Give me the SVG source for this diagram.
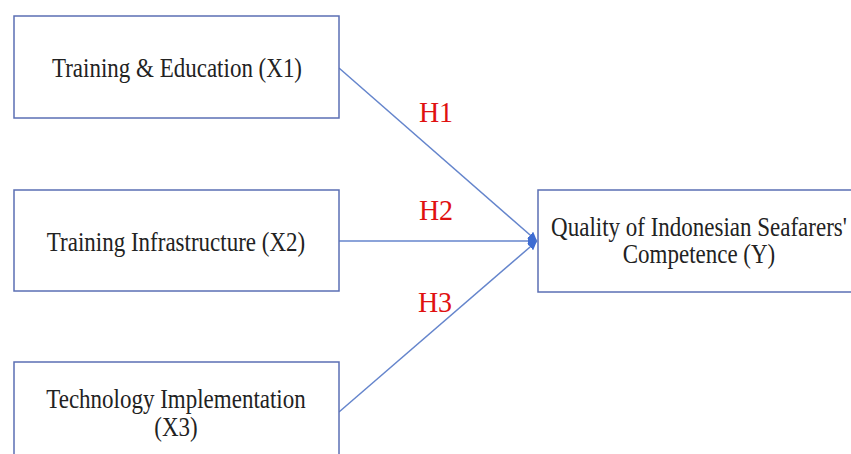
<svg xmlns="http://www.w3.org/2000/svg" width="851" height="454" viewBox="0 0 851 454">
<style>
.box{fill:#fff;stroke:#5B6FB4;stroke-width:1.5}
.t{font-family:'Liberation Serif',Tinos,'Times New Roman',Times,'DejaVu Serif',serif;font-size:23px;fill:#222;text-anchor:middle}
.h{font-family:'Liberation Serif',Tinos,'Times New Roman',Times,'DejaVu Serif',serif;font-size:28px;fill:#E01010;text-anchor:middle}
.c{stroke:#6585CC;stroke-width:1.5;fill:none;marker-end:url(#ah)}
</style>
<defs>
<marker id="ah" viewBox="0 0 10 10" refX="10" refY="5" markerWidth="9" markerHeight="9" markerUnits="userSpaceOnUse" orient="auto">
<path d="M0,0 L10,5 L0,10 Z" fill="#3E6CD2"/>
</marker>
</defs>
<rect width="851" height="454" fill="#fff"/>
<g id="connectors">
<line class="c" x1="339" y1="68" x2="537" y2="241"/>
<line class="c" x1="339" y1="241" x2="537" y2="241"/>
<line class="c" x1="339" y1="412" x2="537" y2="241"/>
</g>
<g id="labels">
<text class="h" transform="translate(436,122) scale(1,1.06)">H1</text>
<text class="h" transform="translate(436,220) scale(1,1.06)">H2</text>
<text class="h" transform="translate(435,312) scale(1,1.06)">H3</text>
</g>
<g id="x1">
<rect class="box" x="14" y="16" width="325" height="102"/>
<text class="t" transform="translate(177,77) scale(1,1.18)">Training &amp; Education (X1)</text>
</g>
<g id="x2">
<rect class="box" x="14" y="190" width="325" height="101"/>
<text class="t" transform="translate(176,251) scale(1,1.18)">Training Infrastructure (X2)</text>
</g>
<g id="x3">
<rect class="box" x="14" y="362" width="325" height="110"/>
<text class="t" transform="translate(176,408) scale(1,1.18)">Technology Implementation</text>
<text class="t" transform="translate(176,436) scale(1,1.18)">(X3)</text>
</g>
<g id="y">
<rect class="box" x="538" y="190" width="330" height="102"/>
<text class="t" transform="translate(699,236) scale(1,1.18)">Quality of Indonesian Seafarers'</text>
<text class="t" transform="translate(699,263) scale(1,1.18)">Competence (Y)</text>
</g>
</svg>
